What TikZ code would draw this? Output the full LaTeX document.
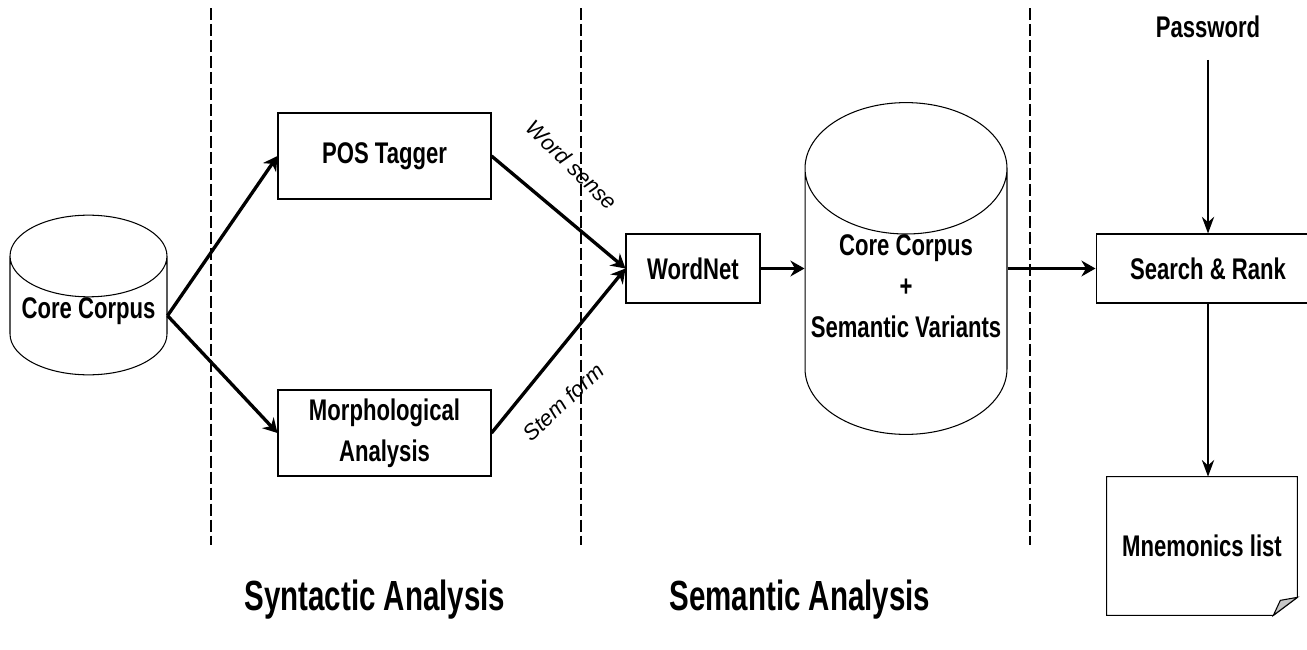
\documentclass[tikz,border=0pt]{standalone}
\usepackage{fontspec}
\setmainfont{Liberation Sans}[FakeStretch=0.74]
\newfontfamily\headfont{Liberation Sans}[FakeStretch=0.7]
\newfontfamily\edgefont{Liberation Sans}
\usetikzlibrary{shapes.geometric,arrows.meta}

\tikzset{
  txt/.style={font=\bfseries\fontsize{17}{23.5}\selectfont, align=center},
  box/.style={txt, draw, line width=0.6pt, inner sep=0pt},
  db/.style={txt, cylinder, shape border rotate=90, draw, line width=0.6pt, inner sep=0pt},
  arr/.style={line width=1.9pt, -{Stealth[length=8pt,width=9pt]}},
  thinarr/.style={line width=1.1pt, -{Stealth[length=9.5pt,width=7pt]}},
  sep/.style={line width=0.7pt, dash pattern=on 6.8pt off 2.3pt},
  elab/.style={font=\edgefont\itshape\fontsize{12.5}{15}\selectfont},
  head/.style={font=\headfont\bfseries\fontsize{24}{28}\selectfont}
}

\begin{document}
\begin{tikzpicture}[x=0.02cm,y=-0.02cm]
\useasboundingbox (0,0) rectangle (1307,649);

% phase borders
\foreach \x in {211,581,1030}
  \draw[sep] (\x,8) -- (\x,545);

% stores
\node[db, minimum width=3.14cm, minimum height=3.12cm, aspect=0.61, text depth=9pt, anchor=shape center] (corpus) at (88.5,295) {Core Corpus};
\node[db, minimum width=4.04cm, minimum height=5.54cm, aspect=0.69, text depth=17.5pt, anchor=shape center] (store) at (906,268.5) {Core Corpus\\+\\Semantic Variants};

% processing steps
\node[box, minimum width=4.26cm, minimum height=1.72cm] (pos) at (384.5,156) {POS Tagger};
\node[box, minimum width=4.26cm, minimum height=1.72cm] (morph) at (384.5,433) {Morphological\\Analysis};
\node[box, minimum width=2.68cm, minimum height=1.38cm] (wordnet) at (693,268.5) {WordNet};
\node[box, minimum width=4.48cm, minimum height=1.38cm] (search) at (1208,268.5) {Search \& Rank};
\node[txt] (pwd) at (1208,27) {Password};
\node[txt, minimum width=3.8cm, minimum height=2.76cm] (mnem) at (1202,546) {Mnemonics list};

% folded page
\draw[line width=0.6pt] (mnem.north west) -- (mnem.north east) -- ([yshift=0.36cm]mnem.south east)
  -- ([xshift=-0.48cm]mnem.south east) -- (mnem.south west) -- cycle;
\filldraw[line width=0.6pt, fill=gray!45] ([xshift=-0.48cm]mnem.south east) -- ([yshift=0.36cm]mnem.south east)
  -- ([xshift=-0.34cm,yshift=0.3cm]mnem.south east) -- cycle;

% flow
\draw[arr] (corpus.east) -- (pos.west);
\draw[arr] (corpus.east) -- (morph.west);
\draw[arr] (pos.east) -- (wordnet.west);
\draw[arr] (morph.east) -- (wordnet.west);
\draw[arr] (wordnet.east) -- (wordnet.east -| store.west);
\draw[arr] (store.east |- search.west) -- (search.west);
\draw[thinarr, shorten <=9pt] (pwd) -- (search);
\draw[thinarr] (search) -- (search |- mnem.north);

\node[elab, rotate=-44] (sense) at (572,165) {Word sense};
\node[elab, rotate=43] (stem) at (563,402) {Stem form};

\node[head] (syn) at (375,600) {Syntactic Analysis};
\node[head] (sem) at (800,600) {Semantic Analysis};
\end{tikzpicture}
\end{document}
